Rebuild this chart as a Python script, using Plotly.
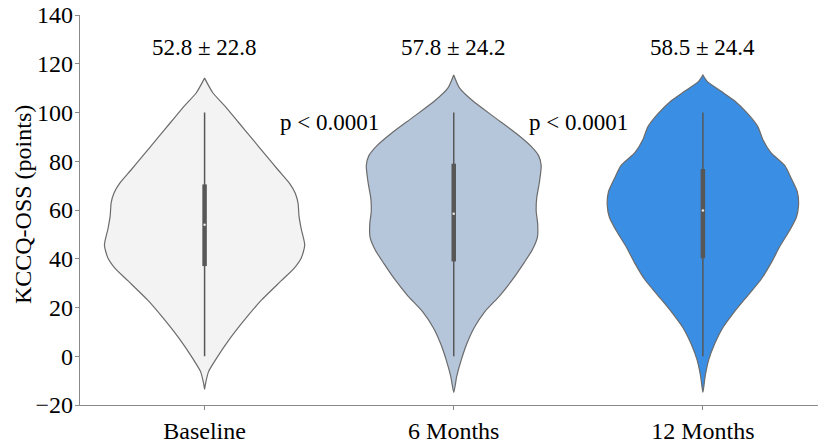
import plotly.graph_objects as go

# ---- data -----------------------------------------------------------------
groups = ["Baseline", "6 Months", "12 Months"]
summary_labels = ["52.8 ± 22.8", "57.8 ± 24.2", "58.5 ± 24.4"]
p_labels = ["p < 0.0001", "p < 0.0001"]

# KDE outline of each violin: score levels and half-width (density, category units)
baseline_y = [-13.6, -11.6, -6.3, -1.0, 7.0, 15.0, 23.0, 31.0, 36.3, 40.3, 45.6,
              52.2, 57.5, 62.9, 66.9, 70.9, 76.2, 82.8, 89.5, 96.1, 102.8, 108.1, 114.1]
baseline_w = [0.000, 0.003, 0.016, 0.047, 0.100, 0.161, 0.228, 0.308, 0.361, 0.388, 0.402,
              0.388, 0.379, 0.375, 0.364, 0.341, 0.297, 0.243, 0.189, 0.135, 0.080, 0.033, 0.000]

m6_y = [-14.8, -8.3, -1.6, 5.0, 11.7, 18.3, 25.0, 31.6, 38.3, 43.6, 48.9, 54.2,
        59.5, 64.9, 71.5, 78.2, 82.2, 86.2, 91.5, 98.1, 104.8, 110.1, 115.4]
m6_w = [0.000, 0.012, 0.030, 0.052, 0.082, 0.125, 0.186, 0.237, 0.282, 0.315, 0.336, 0.337,
        0.331, 0.333, 0.344, 0.351, 0.341, 0.310, 0.250, 0.163, 0.076, 0.023, 0.000]

m12_y = [-14.8, -8.3, -1.6, 5.0, 11.7, 18.3, 25.0, 31.6, 38.3, 44.9, 51.6, 56.9,
         62.2, 67.5, 72.9, 78.2, 83.5, 88.8, 94.1, 99.4, 104.8, 108.8, 112.8, 115.4]
m12_w = [0.000, 0.009, 0.023, 0.047, 0.080, 0.127, 0.181, 0.234, 0.274, 0.308, 0.348, 0.375,
         0.384, 0.379, 0.355, 0.329, 0.273, 0.241, 0.221, 0.181, 0.127, 0.072, 0.017, 0.000]

# box-plot statistics: whisker low, Q1, median, Q3, whisker high
q_low = [0, 0, 0]
q1 = [37.0, 38.9, 40.2]
medians = [53.9, 58.5, 59.8]
q3 = [70.5, 79.0, 76.8]
q_high = [100, 100, 100]

# ---- styling --------------------------------------------------------------
fills = ["#f3f3f3", "#b5c5da", "#3a8ee4"]
edge = "#6b6b6b"
box_col = "#575757"
font_family = "Liberation Serif, Times New Roman, serif"

profiles = [(baseline_y, baseline_w), (m6_y, m6_w), (m12_y, m12_w)]

fig = go.Figure()

for i, (ys, ws) in enumerate(profiles):
    # closed outline: up the left side, down the right side
    xs = [i - w for w in ws] + [i + w for w in reversed(ws)]
    yy = list(ys) + list(reversed(ys))
    fig.add_trace(go.Scatter(
        x=xs, y=yy, mode="lines", fill="toself", fillcolor=fills[i],
        line=dict(color=edge, width=1.2, shape="spline", smoothing=0.6),
        hoverinfo="skip", showlegend=False))
    # whisker
    fig.add_trace(go.Scatter(
        x=[i, i], y=[q_low[i], q_high[i]], mode="lines",
        line=dict(color=box_col, width=1.5), hoverinfo="skip", showlegend=False))
    # interquartile bar
    fig.add_trace(go.Scatter(
        x=[i, i], y=[q1[i], q3[i]], mode="lines",
        line=dict(color=box_col, width=4.5), hoverinfo="skip", showlegend=False))
    # median point
    fig.add_trace(go.Scatter(
        x=[i], y=[medians[i]], mode="markers",
        marker=dict(color="#e8e8e8", size=2.5), hoverinfo="skip", showlegend=False))

# mean ± SD above each violin
for i, lab in enumerate(summary_labels):
    fig.add_annotation(x=i, y=126.5, text=lab, showarrow=False,
                       font=dict(family=font_family, size=23, color="black"),
                       xanchor="center", yanchor="middle")

# p-values between consecutive time points
for i, lab in enumerate(p_labels):
    fig.add_annotation(x=i + 0.5, y=96.0, text=lab, showarrow=False,
                       font=dict(family=font_family, size=23, color="black"),
                       xanchor="center", yanchor="middle")

# y-axis title
fig.add_annotation(xref="paper", yref="paper", x=-0.077, y=0.513,
                   text="KCCQ-OSS (points)", textangle=-90, showarrow=False,
                   font=dict(family=font_family, size=24, color="black"),
                   xanchor="center", yanchor="middle")

axis_line = "#8a8a8a"
fig.update_layout(
    width=818, height=444,
    margin=dict(l=80, r=0, t=15, b=28),
    paper_bgcolor="white", plot_bgcolor="white",
    font=dict(family=font_family, size=24, color="black"),
    xaxis=dict(range=[-0.5, 2.462], tickmode="array", tickvals=[0, 1, 2],
               ticktext=groups, showgrid=False, zeroline=False,
               showline=True, linecolor=axis_line, linewidth=1.3,
               ticks="outside", ticklen=4, tickcolor=axis_line, tickwidth=1.2),
    yaxis=dict(range=[-20, 140], tickmode="array",
               tickvals=[-20, 0, 20, 40, 60, 80, 100, 120, 140],
               ticktext=["\u221220", "0", "20", "40", "60", "80", "100", "120", "140"],
               showgrid=False, zeroline=False,
               showline=True, linecolor=axis_line, linewidth=1.3,
               ticks="outside", ticklen=4, tickcolor=axis_line, tickwidth=1.2,
               ticklabelstandoff=-3),
)

fig.write_html("out.html")
